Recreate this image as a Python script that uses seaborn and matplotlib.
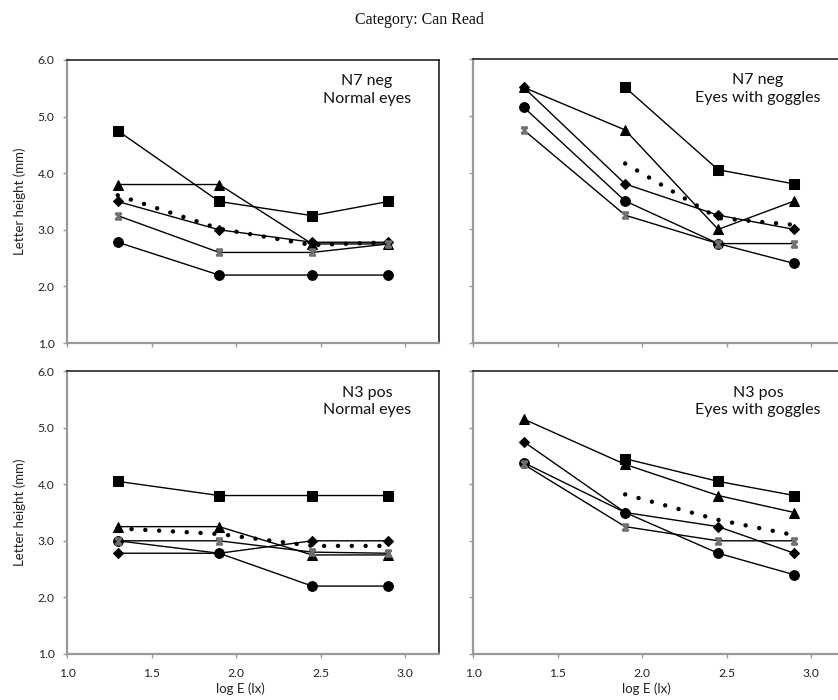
import numpy as np
import pandas as pd
import matplotlib
matplotlib.use("Agg")
import matplotlib.pyplot as plt
import seaborn as sns
from matplotlib.path import Path

# ---------------- data ----------------
log_e = [1.3, 1.9, 2.45, 2.9]
xticks = [1.0, 1.5, 2.0, 2.5, 3.0]
yticks = [1.0, 2.0, 3.0, 4.0, 5.0, 6.0]

panel_titles = ["N7 neg\nNormal eyes", "N7 neg\nEyes with goggles",
                "N3 pos\nNormal eyes", "N3 pos\nEyes with goggles"]

# N7 neg, normal eyes
n7_norm_square = [4.75, 3.5, 3.25, 3.5]
n7_norm_triangle = [3.8, 3.8, 2.75, 2.75]
n7_norm_diamond = [3.5, 3.0, 2.78, 2.78]
n7_norm_star = [3.25, 2.6, 2.6, 2.75]
n7_norm_circle = [2.78, 2.2, 2.2, 2.2]
n7_norm_mean = [3.61, 3.02, 2.73, 2.78]

# N7 neg, eyes with goggles
n7_gog_square = [np.nan, 5.5, 4.05, 3.8]
n7_gog_triangle = [5.5, 4.75, 3.0, 3.5]
n7_gog_diamond = [5.5, 3.8, 3.25, 3.0]
n7_gog_star = [4.75, 3.25, 2.75, 2.75]
n7_gog_circle = [5.15, 3.5, 2.75, 2.4]
n7_gog_mean = [np.nan, 4.16, 3.2, 3.08]

# N3 pos, normal eyes
n3_norm_square = [4.05, 3.8, 3.8, 3.8]
n3_norm_triangle = [3.25, 3.25, 2.75, 2.75]
n3_norm_diamond = [2.78, 2.78, 3.0, 3.0]
n3_norm_star = [3.0, 3.0, 2.8, 2.78]
n3_norm_circle = [3.0, 2.78, 2.2, 2.2]
n3_norm_mean = [3.22, 3.12, 2.91, 2.91]

# N3 pos, eyes with goggles
n3_gog_square = [np.nan, 4.45, 4.05, 3.8]
n3_gog_triangle = [5.15, 4.35, 3.8, 3.5]
n3_gog_diamond = [4.75, 3.5, 3.25, 2.78]
n3_gog_star = [4.35, 3.25, 3.0, 3.0]
n3_gog_circle = [4.38, 3.5, 2.78, 2.4]
n3_gog_mean = [np.nan, 3.82, 3.37, 3.1]

panels = [
    dict(square=n7_norm_square, triangle=n7_norm_triangle, diamond=n7_norm_diamond,
         star=n7_norm_star, circle=n7_norm_circle, mean=n7_norm_mean),
    dict(square=n7_gog_square, triangle=n7_gog_triangle, diamond=n7_gog_diamond,
         star=n7_gog_star, circle=n7_gog_circle, mean=n7_gog_mean),
    dict(square=n3_norm_square, triangle=n3_norm_triangle, diamond=n3_norm_diamond,
         star=n3_norm_star, circle=n3_norm_circle, mean=n3_norm_mean),
    dict(square=n3_gog_square, triangle=n3_gog_triangle, diamond=n3_gog_diamond,
         star=n3_gog_star, circle=n3_gog_circle, mean=n3_gog_mean),
]

# ---------------- style ----------------
sns.set_style("white")
plt.rcParams['font.family'] = ['Lato', 'DejaVu Sans']

star_path = Path(
    [(-1, -1), (1, 1), (-1, 1), (1, -1), (-1, 1), (1, 1), (-1, -1), (1, -1)],
    [Path.MOVETO, Path.LINETO, Path.MOVETO, Path.LINETO,
     Path.MOVETO, Path.LINETO, Path.MOVETO, Path.LINETO])

marker_specs = {
    "square": dict(marker="s", markersize=6.5),
    "triangle": dict(marker="^", markersize=7),
    "diamond": dict(marker="D", markersize=5.5),
    "circle": dict(marker="o", markersize=7),
}

W, H = 838, 700
fig = plt.figure(figsize=(W / 100, H / 100), dpi=100)

# axes boxes in pixels: (left, top, right, bottom)
boxes = [(67, 60, 439, 343), (473, 59, 845, 343),
         (67, 371, 439, 654), (473, 371, 845, 654)]
text_pos = [(0.806, 0.894), (0.766, 0.894), (0.806, 0.892), (0.766, 0.892)]

axes = []
for i, (l, t, r, b) in enumerate(boxes):
    ax = fig.add_axes([l / W, 1 - b / H, (r - l) / W, (b - t) / H])
    axes.append(ax)
    d = panels[i]
    for name in ["square", "triangle", "diamond", "star", "circle"]:
        df = pd.DataFrame({"x": log_e, "y": d[name]}).dropna()
        if name == "star":
            sns.lineplot(data=df, x="x", y="y", ax=ax, color="black", lw=1.0,
                         marker=None, legend=False)
            ax.plot(df["x"], df["y"], linestyle="none", marker=star_path,
                    markersize=4.5, markeredgecolor="#6f6f6f", markeredgewidth=1.6,
                    markerfacecolor="none", zorder=4)
        else:
            spec = marker_specs[name]
            sns.lineplot(data=df, x="x", y="y", ax=ax, color="black", lw=1.0,
                         marker=spec["marker"], markersize=spec["markersize"],
                         markeredgecolor="black", markerfacecolor="black",
                         legend=False)
    dm = pd.DataFrame({"x": log_e, "y": d["mean"]}).dropna()
    sns.lineplot(data=dm, x="x", y="y", ax=ax, color="black", lw=3.2,
                 linestyle=(0, (0.01, 3.1)), dash_capstyle="round", legend=False)

    ax.set_xlim(1.0, 3.2)
    ax.set_ylim(1.0, 6.0)
    ax.set_xticks(xticks)
    ax.set_yticks(yticks)
    ax.tick_params(axis="both", direction="out", length=3, width=1,
                   color="#9a9a9a", labelsize=8.7, labelcolor="#222222")
    ax.tick_params(axis="y", pad=6)
    ax.tick_params(axis="x", pad=7)
    ax.tick_params(left=True, bottom=True)
    if i in (0, 2):
        ax.set_yticklabels([f"{v:.1f}" for v in yticks])
        ax.set_ylabel("Letter height (mm)", fontsize=9.5, color="#222222")
        ax.yaxis.set_label_coords(-0.11, 0.5)
    else:
        ax.set_yticklabels([])
        ax.set_ylabel("")
    if i in (2, 3):
        ax.set_xticklabels([f"{v:.1f}" for v in xticks])
        ax.set_xlabel("log E (lx)", fontsize=9.5, color="#222222", labelpad=0)
        ax.xaxis.set_label_coords(0.465, -0.1)
    else:
        ax.set_xticklabels([])
        ax.set_xlabel("")
    for s in ["left", "bottom"]:
        ax.spines[s].set_color("#9a9a9a")
        ax.spines[s].set_linewidth(1.6)
    for s in ["top", "right"]:
        ax.spines[s].set_color("#111111")
        ax.spines[s].set_linewidth(1.1)
    tx, ty = text_pos[i]
    ax.text(tx, ty, panel_titles[i], transform=ax.transAxes, ha="center",
            va="center", fontsize=11.5, color="#111111", linespacing=1.3)

fig.text(419 / W, 1 - 20 / H, "Category: Can Read", ha="center", va="center",
         fontsize=11.5, family="Liberation Serif", color="#111111")

fig.savefig("out.png", dpi=100)
